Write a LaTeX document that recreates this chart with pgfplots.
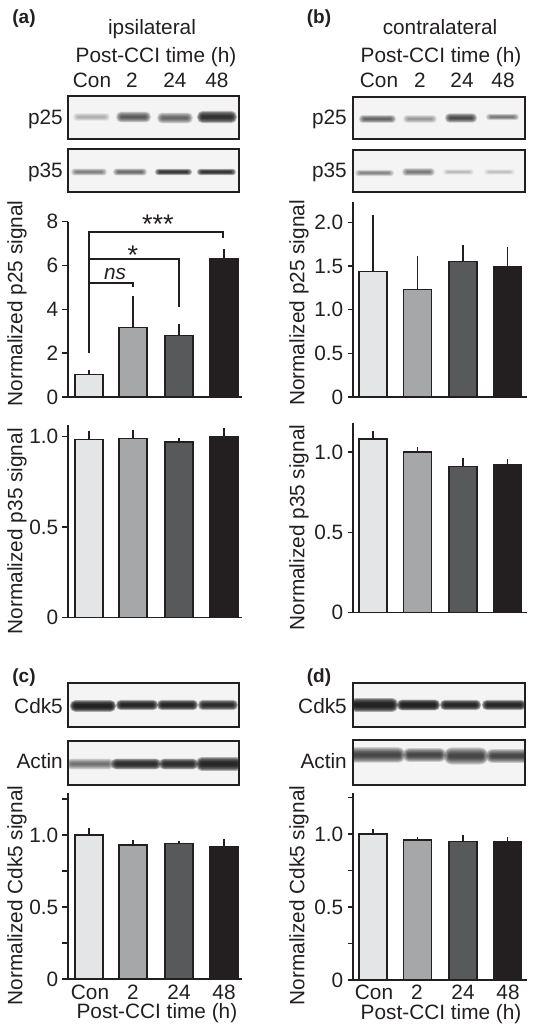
\documentclass[border=0pt]{standalone}
\usepackage{fontspec}
\usepackage{pgfplots}
\pgfplotsset{compat=1.18}
\setmainfont{Liberation Sans}
\newcommand\fs{\fontsize{20.8bp}{24bp}\selectfont}
\newcommand\fb{\fontsize{19bp}{23bp}\selectfont\bfseries}
\definecolor{ga}{HTML}{E4E5E6}
\definecolor{gb}{HTML}{A6A7A9}
\definecolor{gc}{HTML}{58595B}
\definecolor{gd}{HTML}{231F20}
\definecolor{ink}{HTML}{231F20}
\definecolor{blotbg}{HTML}{F4F4F4}
\pgfplotsset{
  panel/.style={scale only axis, width=174bp, axis x line=bottom, axis y line=left, clip=false,
    axis line style={-, line width=1.4bp, ink},
    x tick style={draw=none},
    y tick style={line width=1.4bp, ink},
    major tick length=5.5bp, tick align=outside, xmajorticks=true,
    tick label style={font=\fs, text=ink, inner sep=1bp},
    yticklabel style={xshift=-3bp},
    label style={font=\fs, text=ink}, 
    xtick=\empty},
  gbar/.style={ybar, bar shift=0pt, bar width=28bp, draw=ink, line width=1.3bp, fill=#1,
    error bars/.cd, y dir=plus, y explicit, error mark=none,
    error bar style={line width=1.5bp, ink}},
  ylab/.style 2 args={ylabel style={at={(axis description cs:#1,#2)}, anchor=center}},
  xlab/.style 2 args={xlabel style={at={(axis description cs:#1,#2)}, anchor=base}},
  con/.style={xtick={#1}, xticklabels={Con,2,24,48}}
}
% blot helpers (pixel coordinates, y down)
\newcommand\blot[5]{% x1 y1 x2 y2 bands
  \begin{scope}
    \clip (#1,#2) rectangle (#3,#4);
    \fill[blotbg] (#1,#2) rectangle (#3,#4);
    #5
  \end{scope}
  \draw[ink, line width=1.3bp] (#1,#2) rectangle (#3,#4);
}
\newcommand\band[5]{% x1 x2 yc height darkness
  \pgfmathsetmacro\aa{1-(1-min(#5,0.97))^(1/8)}
  \foreach \s in {0,...,7}{
    \pgfmathsetmacro\hh{(#4)*(1.55-0.18*\s)/2}
    \pgfmathsetmacro\ii{0.7*\s}
    \pgfmathsetmacro\rr{\hh*0.9}
    \fill[black!90, fill opacity=\aa, rounded corners=\rr bp]
      ({#1+\ii},{#3-\hh}) rectangle ({#2-\ii},{#3+\hh});
  }
}
\newcommand\T[4][center]{\node[anchor=#1, font=\fs, text=ink, inner sep=0pt] at (#2,#3) {#4};}
\begin{document}
\begin{tikzpicture}[x=1bp,y=1bp]
\useasboundingbox (0,0) rectangle (536,1033);
\begin{scope}[shift={(0,1033)},yscale=-1]
  % headers
  \node[anchor=base, font=\fb, text=ink, inner sep=0] at (24,24) {(a)};
  \node[anchor=base, font=\fb, text=ink, inner sep=0] at (319,24) {(b)};
  \node[anchor=base, font=\fb, text=ink, inner sep=0] at (24,683) {(c)};
  \node[anchor=base, font=\fb, text=ink, inner sep=0] at (319,683) {(d)};
  \T[base]{152}{35}{ipsilateral}
  \T[base]{440}{35}{contralateral}
  \T[base]{156}{63}{Post-CCI time (h)}
  \T[base]{441}{63}{Post-CCI time (h)}
  \T[base]{92}{88}{Con}\T[base]{132}{88}{2}\T[base]{175}{88}{24}\T[base]{217}{88}{48}
  \T[base]{379}{88}{Con}\T[base]{420}{88}{2}\T[base]{462}{88}{24}\T[base]{503}{88}{48}
  \T[base east]{63}{125}{p25}\T[base east]{63}{178}{p35}
  \T[base east]{347}{125}{p25}\T[base east]{347}{178}{p35}
  \T[base east]{63}{714}{Cdk5}\T[base east]{63}{769}{Actin}
  \T[base east]{347}{714}{Cdk5}\T[base east]{347}{769}{Actin}
  % blots
  \blot{68}{96}{239}{139}{\band{73}{110}{117}{5}{.3}\band{116}{151}{117}{7}{.68}\band{157}{193}{118}{7}{.62}\band{197}{237}{117}{8}{.88}}
  \blot{68}{149}{239}{192}{\band{71}{107}{172}{4.5}{.52}\band{113}{147}{172}{4.5}{.6}\band{155}{192}{172}{4}{.85}\band{197}{236}{172}{4}{.87}}
  \blot{353}{97}{525}{139}{\band{359}{396}{119}{5}{.65}\band{403}{437}{119}{5}{.4}\band{445}{477}{118}{6}{.75}\band{486}{519}{117}{4}{.55}}
  \blot{353}{150}{525}{192}{\band{355}{394}{173}{4}{.48}\band{402}{435}{172}{5}{.55}\band{443}{474}{172}{3.5}{.25}\band{484}{515}{172}{3.5}{.22}}
  \blot{68}{683}{239}{727}{\band{70}{116}{706}{7.5}{.95}\band{116}{158}{705}{6.5}{.93}\band{157}{198}{705}{6.5}{.93}\band{198}{238}{705}{6.5}{.9}}
  \blot{68}{741}{239}{785}{\band{66}{114}{764}{7}{.58}\band{111}{161}{764}{7}{.9}\band{159}{198}{764}{7}{.9}\band{196}{242}{764}{9}{.93}}
  \blot{353}{683}{525}{727}{\band{350}{398}{705}{9}{.95}\band{397}{440}{705}{7}{.95}\band{440}{481}{705}{6.5}{.93}\band{482}{526}{705}{6.5}{.93}}
  \blot{353}{740}{525}{785}{\band{348}{405}{755}{10}{.78}\band{403}{446}{755}{9}{.78}\band{444}{488}{756}{11}{.78}\band{486}{530}{756}{9}{.78}}
\end{scope}

% (a) p25
\begin{axis}[panel, at={(68bp,636bp)}, anchor=south west, height=175.3bp, xmin=68, xmax=242, ymin=0, ymax=8,
  ytick={0,2,4,6,8}, yticklabels={0,2,4,6,8},
  ylabel={Normalized p25 signal}, ylab={-0.2930}{0.534}]
  \addplot[gbar=ga] coordinates {(89,1.02) +- (0,0.23)};
  \addplot[gbar=gb] coordinates {(133,3.17) +- (0,1.43)};
  \addplot[gbar=gc] coordinates {(179,2.82) +- (0,0.5)};
  \addplot[gbar=gd] coordinates {(224,6.32) +- (0,0.42)};
  \addplot[line width=1.7bp, ink, mark=none] coordinates {(89,2.0) (89,7.54) (223,7.54) (223,7.27)};
  \addplot[line width=1.7bp, ink, mark=none] coordinates {(89,6.3) (179,6.3) (179,4.1)};
  \addplot[line width=1.7bp, ink, mark=none] coordinates {(89,5.2) (133,5.2) (133,5.0)};
  \node[anchor=base, font=\fontsize{27bp}{27bp}\selectfont, text=ink, inner sep=0] at (axis cs:158,7.47) {***};
  \node[anchor=base, font=\fontsize{27bp}{27bp}\selectfont, text=ink, inner sep=0] at (axis cs:133,6.03) {*};
  \node[anchor=base, font=\fs\itshape, text=ink, inner sep=0] at (axis cs:115,5.35) {ns};
\end{axis}
% (a) p35
\begin{axis}[panel, at={(68bp,415.7bp)}, anchor=south west, height=192.3bp, xmin=68, xmax=242, ymin=0, ymax=1.065,
  ytick={0,0.5,1}, yticklabels={0,0.5,1.0},
  ylabel={Normalized p35 signal}, ylab={-0.2930}{0.448}]
  \addplot[gbar=ga] coordinates {(89,0.985) +- (0,0.045)};
  \addplot[gbar=gb] coordinates {(133,0.99) +- (0,0.05)};
  \addplot[gbar=gc] coordinates {(179,0.97) +- (0,0.025)};
  \addplot[gbar=gd] coordinates {(224,1.0) +- (0,0.05)};
\end{axis}
% (b) p25
\begin{axis}[panel, at={(353bp,636bp)}, anchor=south west, height=195bp, xmin=353, xmax=527, ymin=0, ymax=2.236,
  ytick={0,0.5,1,1.5,2}, yticklabels={0,0.5,1.0,1.5,2.0},
  ylabel={Normalized p25 signal}, ylab={-0.310}{0.482}]
  \addplot[gbar=ga] coordinates {(373,1.44) +- (0,0.65)};
  \addplot[gbar=gb] coordinates {(417.5,1.23) +- (0,0.39)};
  \addplot[gbar=gc] coordinates {(463,1.55) +- (0,0.19)};
  \addplot[gbar=gd] coordinates {(507.5,1.50) +- (0,0.22)};
\end{axis}
% (b) p35
\begin{axis}[panel, at={(353bp,420.3bp)}, anchor=south west, height=190bp, xmin=353, xmax=527, ymin=0, ymax=1.182,
  ytick={0,0.5,1}, yticklabels={0,0.5,1.0},
  ylabel={Normalized p35 signal}, ylab={-0.310}{0.448}]
  \addplot[gbar=ga] coordinates {(373,1.08) +- (0,0.05)};
  \addplot[gbar=gb] coordinates {(417.5,1.0) +- (0,0.03)};
  \addplot[gbar=gc] coordinates {(463,0.91) +- (0,0.05)};
  \addplot[gbar=gd] coordinates {(507.5,0.92) +- (0,0.035)};
\end{axis}
% (c) Cdk5
\begin{axis}[panel, at={(68bp,54bp)}, anchor=south west, height=186bp, xmin=68, xmax=242, ymin=0, ymax=1.292,
  ytick={0,0.25,0.5,0.75,1,1.25}, yticklabels={0,,0.5,,1.0,},
  con={90,133,179,224}, xticklabel style={anchor=base, yshift=-15bp},
  ylabel={Normalized Cdk5 signal}, ylab={-0.2930}{0.449},
  xlabel={Post-CCI time (h)}, xlab={0.511}{-0.215}]
  \addplot[gbar=ga] coordinates {(89,1.0) +- (0,0.05)};
  \addplot[gbar=gb] coordinates {(133,0.93) +- (0,0.035)};
  \addplot[gbar=gc] coordinates {(179,0.94) +- (0,0.02)};
  \addplot[gbar=gd] coordinates {(224,0.92) +- (0,0.055)};
\end{axis}
% (d) Cdk5
\begin{axis}[panel, at={(353bp,53bp)}, anchor=south west, height=187bp, xmin=353, xmax=527, ymin=0, ymax=1.281,
  ytick={0,0.25,0.5,0.75,1,1.25}, yticklabels={0,,0.5,,1.0,},
  con={374,417,463,508}, xticklabel style={anchor=base, yshift=-14bp},
  ylabel={Normalized Cdk5 signal}, ylab={-0.310}{0.452},
  xlabel={Post-CCI time (h)}, xlab={0.506}{-0.2086}]
  \addplot[gbar=ga] coordinates {(373,1.0) +- (0,0.035)};
  \addplot[gbar=gb] coordinates {(417.5,0.96) +- (0,0.02)};
  \addplot[gbar=gc] coordinates {(463,0.95) +- (0,0.04)};
  \addplot[gbar=gd] coordinates {(507.5,0.95) +- (0,0.03)};
\end{axis}
\end{tikzpicture}
\end{document}
